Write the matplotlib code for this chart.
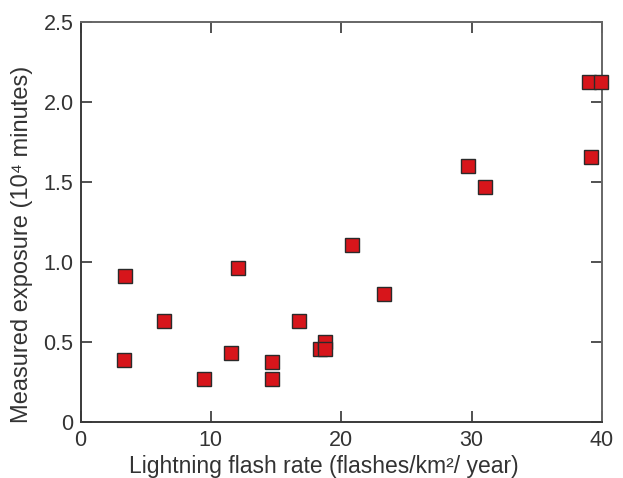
import matplotlib
matplotlib.use("Agg")
import matplotlib.pyplot as plt

flash_rate = [3.41, 3.36, 6.43, 9.47, 11.52, 12.10, 14.66, 14.66, 16.78,
              20.82, 23.27, 18.37, 18.75, 18.75, 39.02, 39.92, 39.15, 29.72, 31.04]
exposure = [0.911, 0.386, 0.629, 0.269, 0.428, 0.959, 0.373, 0.269, 0.629,
            1.104, 0.798, 0.453, 0.500, 0.453, 2.125, 2.125, 1.656, 1.598, 1.465]

x_ticks = [0, 10, 20, 30, 40]
x_tick_labels = ["0", "10", "20", "30", "40"]
y_ticks = [0, 0.5, 1.0, 1.5, 2.0, 2.5]
y_tick_labels = ["0", "0.5", "1.0", "1.5", "2.0", "2.5"]
x_label = "Lightning flash rate (flashes/km²/ year)"
y_label = "Measured exposure (10⁴ minutes)"

plt.rcParams['font.family'] = ['Liberation Sans', 'DejaVu Sans']

W, H = 623, 478
fig = plt.figure(figsize=(W/100, H/100), dpi=100)
ax = fig.add_axes([80.5/W, 1-421.7/H, (602-80.5)/W, (421.7-21.7)/H])

ax.plot(flash_rate, exposure, linestyle='none', marker='s', markersize=9.8,
        markerfacecolor='#d7151b', markeredgecolor='#2a2a2a', markeredgewidth=1.0,
        clip_on=False, zorder=3)

ax.set_xlim(0, 40)
ax.set_ylim(0, 2.5)
ax.set_xticks(x_ticks)
ax.set_xticklabels(x_tick_labels)
ax.set_yticks(y_ticks)
ax.set_yticklabels(y_tick_labels)

for name, s in ax.spines.items():
    s.set_color('#3a3a3a' if name in ('left', 'bottom') else '#666666')
    s.set_linewidth(1.4)

ax.tick_params(axis='both', direction='in', length=8, width=1.2, color='#333333',
               top=True, right=True, labelsize=15.5, labelcolor='#333333')
ax.tick_params(axis='x', pad=6)
ax.tick_params(axis='y', pad=5)

fig.text(324/W, 1-473/H, x_label, fontsize=16.5, color='#333333',
         ha='center', va='baseline')
fig.text(22.5/W, 1-244/H, y_label, fontsize=17, color='#333333',
         ha='center', va='center', rotation=90)

fig.savefig("out.png", dpi=100)
